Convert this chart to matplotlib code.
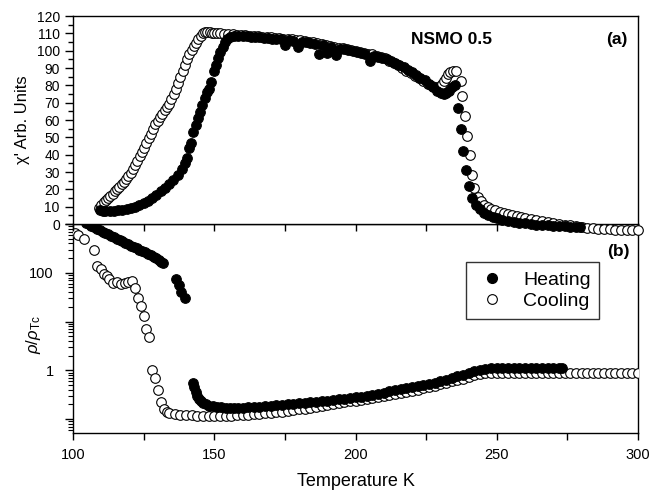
import numpy as np
import matplotlib
matplotlib.use('Agg')
import matplotlib.pyplot as plt
from matplotlib.ticker import MultipleLocator, LogLocator, FuncFormatter
from matplotlib.lines import Line2D

plt.rcParams['font.family'] = ['Liberation Sans', 'DejaVu Sans']
plt.rcParams['mathtext.fontset'] = 'custom'
plt.rcParams['mathtext.rm'] = 'Liberation Sans'
plt.rcParams['mathtext.it'] = 'Liberation Sans:italic'

# ---- panel (a): chi' vs T ----
heat_T_a = [109.5, 110.5, 111.5, 113, 114.5, 116, 117.5, 119, 120.5, 122,
            123.5, 125, 126.5, 128, 129.5, 131, 132.5, 134, 135.5, 137,
            138.5, 139.5, 140.3, 141, 141.8, 142.6, 143.4, 144.2, 145, 145.8,
            146.6, 147.4, 148.2, 149, 149.8, 150.6, 151.4, 152.2, 153, 153.8,
            154.6, 155.5,
            157, 158.5, 160, 161.5, 163, 164.5, 166, 167.5, 169, 170.5,
            172, 173.5, 175, 176.5, 178, 179.5, 181, 182.5, 184, 185.5,
            187, 188.5, 190, 191.5, 193, 194.5, 196, 197.5, 199, 200.5,
            202, 203.5, 205, 206.5, 208, 209.5, 211, 212.5, 214, 215.5,
            217, 218.5, 220, 221.5, 223, 224.5, 226, 227.5, 229,
            230.2, 231.2, 232.2, 233.2, 234.2, 235.1, 236.2, 237.2, 238.2, 239.2,
            240.2, 241.4, 242.6, 244, 245.5, 247, 248.5, 250, 252, 254,
            256, 258, 260, 262, 264, 266, 268, 270, 272, 274,
            276, 278, 279.5]
heat_chi = [8, 7.6, 7.3, 7.3, 7.5, 7.8, 8.2, 8.6, 9, 9.8,
            10.8, 12, 13.3, 15, 17, 19, 21, 23, 25.5, 28,
            31.5, 35, 38, 44, 47, 53, 57, 61, 64.5, 68.5,
            72.5, 76, 78, 82, 88, 92, 96, 99, 102, 105,
            107, 108,
            108.5, 108.5, 108.3, 108.2, 108, 107.8, 107.6, 107.4, 107.2, 107,
            106.8, 106.5, 103, 106, 105.7, 102, 105.2, 104.8, 104.4, 104,
            98, 103, 98.5, 102.2, 97.5, 101.2, 100.8, 100.3, 99.8, 99.3,
            98.8, 98.3, 94, 97.2, 96.6, 96, 95.2, 94.2, 93, 91.8,
            90.5, 89, 87.5, 86, 84.5, 83, 81, 79, 77,
            75.5, 75, 75.5, 77, 79, 80, 67, 55, 42, 31,
            22, 15, 11, 8.5, 6.5, 5, 4, 3.3, 2.5, 1.8,
            1.2, 0.8, 0.4, 0, -0.3, -0.6, -0.8, -1, -1.2, -1.4,
            -1.5, -1.7, -1.8]

cool_T_a = [109.3, 110, 110.8, 111.6, 112.4, 113.2, 114, 114.8, 115.6, 116.4,
            117.2, 118, 118.8, 119.6, 120.4, 121.2, 122, 122.8, 123.6, 124.4,
            125.2, 126, 126.8, 127.6, 128.4, 129.2, 130, 130.8, 131.6, 132.4,
            133.2, 134, 134.8, 135.6, 136.4, 137.2, 138, 138.8, 139.6, 140.4,
            141.2, 142, 142.8, 143.6, 144.4, 145.2, 146, 146.8, 147.6, 148.4,
            149.2, 150, 151, 152,
            153.5, 155, 156.5, 158, 159.5, 161, 162.5, 164, 165.5, 167,
            168.5, 170, 171.5, 173, 174.5, 176, 177.5, 179, 180.5, 182,
            183.5, 185, 186.5, 188, 189.5, 191, 192.5, 194, 195.5, 197,
            198.5, 200, 201.5, 203, 204.5, 206, 207.5, 209, 210.5, 212,
            213.5, 215, 216.5, 218, 219.5, 221, 222.5, 224, 225.5, 227,
            228.5, 229.5, 230.5, 231.3, 232, 232.8, 233.6, 234.4, 235.5, 237.2,
            237.8, 238.8, 239.6, 240.4, 241.1, 242, 243.2, 244.4, 245.5, 246.8,
            248, 249.5, 251, 252.5, 254, 255.5, 257, 258.5, 260, 262,
            264, 266, 268, 270, 272, 274, 276, 278, 280, 282,
            284, 286, 288, 290, 292, 294, 296, 298, 300]
cool_chi = [9, 11, 12.5, 13.8, 15, 16, 17.5, 18.8, 20, 21.5,
            23, 24.5, 26, 27.5, 29.5, 31.5, 34, 36.5, 39, 41.5,
            44, 47, 49.5, 52, 55, 57.5, 59.5, 61.5, 63.5, 65.5,
            67.5, 69.5, 72, 75, 78, 81.5, 85, 88.5, 92, 95,
            98, 100.5, 102.5, 104.5, 106.5, 108.5, 110, 110.5, 110.5, 110.5,
            110.3, 110.2, 110, 110,
            109.8, 109.6, 109.4, 109.2, 109, 108.8, 108.6, 108.4, 108.2, 108,
            107.8, 107.6, 107.4, 107.2, 107, 106.8, 106.6, 106.3, 106, 105.6,
            105.2, 104.8, 104.3, 103.8, 103.3, 102.8, 102.3, 101.8, 101.3, 100.8,
            100.3, 99.8, 99.3, 98.8, 98.3, 97.8, 97.2, 96.5, 95.5, 94.3,
            93, 91.5, 90, 88.5, 87, 85.5, 84, 82.5, 81, 79.8,
            79, 79, 80.5, 82.5, 84.5, 86.5, 87.5, 88, 88, 82.5,
            74, 62.5, 51, 39.6, 28.2, 20.6, 15.8, 13, 11, 9.8,
            8.8, 7.8, 7, 6.3, 5.6, 5, 4.4, 3.9, 3.4, 2.8,
            2.2, 1.7, 1.2, 0.7, 0.2, -0.3, -0.8, -1.3, -1.8, -2.2,
            -2.5, -2.8, -3, -3.1, -3.2, -3.2, -3.2, -3.2, -3.2]

# ---- panel (b): rho/rho_Tc vs T ----
heat_T_b = [104.5, 105.5, 106.5, 107.5, 108.5, 109.5, 110.5, 111.5, 112.5, 113.5,
            114.5, 115.5, 116.5, 117.5, 118.5, 119.5, 120.5, 121.5, 122.5, 123.5,
            124.5, 125.5, 126.5, 127.5, 128.5, 129.5, 130.4, 131.2, 132,
            136.5, 137.4, 138.2, 139.7,
            142.4, 142.9, 143.4, 143.9, 144.5, 145.2, 146, 147, 148, 149.5,
            151, 152.5, 154, 155.5, 157, 158.5, 160, 162, 164, 166,
            168, 170, 172, 174, 176, 178, 180, 182, 184, 186,
            188, 190, 192, 194, 196, 198, 200, 202, 204, 206,
            208, 210, 212, 214, 216, 218, 220, 222, 224, 226,
            228, 230, 232, 234, 236, 238, 240, 242, 244, 246,
            248, 250, 252, 254, 256, 258, 260, 262, 264, 266,
            268, 270, 272, 273]
heat_rho = [1050, 980, 920, 860, 800, 750, 700, 655, 610, 570,
            535, 500, 470, 440, 410, 385, 360, 340, 318, 298,
            280, 262, 245, 230, 215, 200, 185, 170, 160,
            73, 55, 41, 30,
            0.56, 0.45, 0.36, 0.3, 0.26, 0.23, 0.21, 0.2, 0.19, 0.185,
            0.18, 0.175, 0.172, 0.17, 0.168, 0.17, 0.172, 0.175, 0.178, 0.181,
            0.184, 0.188, 0.192, 0.196, 0.2, 0.205, 0.21, 0.215, 0.22, 0.226,
            0.232, 0.24, 0.247, 0.255, 0.263, 0.272, 0.28, 0.29, 0.3, 0.315,
            0.33, 0.35, 0.37, 0.39, 0.41, 0.43, 0.45, 0.475, 0.5, 0.53,
            0.56, 0.6, 0.64, 0.69, 0.75, 0.82, 0.9, 0.97, 1.02, 1.07,
            1.1, 1.11, 1.12, 1.12, 1.12, 1.12, 1.12, 1.12, 1.12, 1.12,
            1.12, 1.12, 1.12, 1.12]

cool_T_b = [100.7, 101.9, 103.9, 107.6, 108.6, 109.8, 110.8, 111.9, 112.9, 114,
            115.5, 116.9, 118.4, 119.6, 120.8, 121.9, 122.9, 124, 125.2, 125.9,
            127, 128, 129.1, 130, 131.1, 132.3, 133.2,
            134, 136, 138, 140, 142, 144, 146, 148, 150, 152,
            154, 156, 158, 160, 162, 164, 166, 168, 170, 172,
            174, 176, 178, 180, 182, 184, 186, 188, 190, 192,
            194, 196, 198, 200, 202, 204, 206, 208, 210, 212,
            214, 216, 218, 220, 222, 224, 226, 228, 230, 232,
            234, 236, 238, 240, 242, 244, 246, 248, 250, 252,
            254, 256, 258, 260, 262, 264, 266, 268, 270, 272,
            274, 276, 278, 280, 282, 284, 286, 288, 290, 292,
            294, 296, 298, 300]
cool_rho = [640, 590, 490, 290, 138, 117, 95, 85, 75, 62,
            64, 59, 62, 66, 69, 48, 31, 21, 13, 6.9,
            4.8, 1.02, 0.7, 0.39, 0.22, 0.16, 0.14,
            0.134, 0.128, 0.124, 0.121, 0.119, 0.118, 0.117, 0.116, 0.115, 0.115,
            0.116, 0.117, 0.119, 0.12, 0.122, 0.125, 0.128, 0.131, 0.134, 0.137,
            0.14, 0.146, 0.152, 0.158, 0.165, 0.172, 0.18, 0.188, 0.196, 0.204,
            0.212, 0.221, 0.23, 0.24, 0.25, 0.26, 0.27, 0.28, 0.295, 0.31,
            0.327, 0.345, 0.364, 0.384, 0.405, 0.427, 0.45, 0.48, 0.52, 0.555,
            0.595, 0.635, 0.68, 0.73, 0.79, 0.84, 0.87, 0.875, 0.88, 0.88,
            0.88, 0.88, 0.88, 0.88, 0.88, 0.88, 0.88, 0.88, 0.88, 0.88,
            0.88, 0.88, 0.88, 0.88, 0.88, 0.88, 0.88, 0.88, 0.88, 0.88,
            0.88, 0.88, 0.88, 0.88]

W, H = 651, 493
fig = plt.figure(figsize=(W / 100, H / 100), dpi=100)
left, right = 73 / W, 638 / W
y_mid = 1 - 224 / H
ax_b = fig.add_axes([left, 1 - 433 / H, right - left, y_mid - (1 - 433 / H)])
ax_a = fig.add_axes([left, y_mid, right - left, (1 - 16 / H) - y_mid])

ms = 48
# panel a
ax_a.scatter(cool_T_a, cool_chi, s=ms, facecolor='white', edgecolor='black', lw=0.8, clip_on=False, zorder=3)
ax_a.scatter(heat_T_a, heat_chi, s=ms, facecolor='black', edgecolor='black', lw=0.8, clip_on=False, zorder=4)
ax_a.set_xlim(100, 300)
ax_a.set_ylim(0, 120)
ax_a.yaxis.set_major_locator(MultipleLocator(10))
ax_a.yaxis.set_minor_locator(MultipleLocator(5))
ax_a.xaxis.set_major_locator(MultipleLocator(50))
ax_a.xaxis.set_minor_locator(MultipleLocator(25))
ax_a.tick_params(axis='x', which='both', direction='out', length=5, width=1, labelbottom=False)
ax_a.tick_params(axis='y', which='major', direction='out', length=6, width=1, labelsize=10)
ax_a.tick_params(axis='y', which='minor', direction='out', length=3.5, width=1)
ax_a.set_ylabel("χ' Arb. Units", fontsize=12)
ax_a.yaxis.set_label_coords(-0.076, 0.5)
ax_a.text(0.67, 0.885, 'NSMO 0.5', fontsize=12.5, fontweight='bold', ha='center', va='center',
          transform=ax_a.transAxes)
ax_a.text(0.962, 0.885, '(a)', fontsize=12.5, fontweight='bold', ha='center', va='center',
          transform=ax_a.transAxes)

# panel b
ax_b.scatter(cool_T_b, cool_rho, s=ms, facecolor='white', edgecolor='black', lw=0.8, zorder=3)
ax_b.scatter(heat_T_b, heat_rho, s=ms, facecolor='black', edgecolor='black', lw=0.8, zorder=4)
ax_b.set_yscale('log')
ax_b.set_xlim(100, 300)
ax_b.set_ylim(0.052, 1000)
ax_b.yaxis.set_major_locator(LogLocator(base=10, numticks=10))
ax_b.yaxis.set_minor_locator(LogLocator(base=10, subs=np.arange(2, 10), numticks=20))
ax_b.yaxis.set_major_formatter(FuncFormatter(lambda v, p: {1.0: '1', 100.0: '100'}.get(round(v, 6), '')))
ax_b.yaxis.set_minor_formatter(FuncFormatter(lambda v, p: ''))
ax_b.xaxis.set_major_locator(MultipleLocator(50))
ax_b.xaxis.set_minor_locator(MultipleLocator(25))
ax_b.tick_params(axis='x', which='both', direction='out', length=5, width=1, labelsize=10.5, pad=6)
ax_b.tick_params(axis='y', which='major', direction='out', length=6, width=1, labelsize=10.5, pad=8)
ax_b.tick_params(axis='y', which='minor', direction='out', length=3.5, width=0.8)
ax_b.set_ylabel(r'$\rho/\rho_{\mathrm{Tc}}$', fontsize=12)
ax_b.yaxis.set_label_coords(-0.053, 0.47)
ax_b.set_xlabel('Temperature K', fontsize=13, labelpad=8)
ax_b.text(0.965, 0.87, '(b)', fontsize=12.5, fontweight='bold', ha='center', va='center',
          transform=ax_b.transAxes)

for ax in (ax_a, ax_b):
    for sp in ax.spines.values():
        sp.set_linewidth(1)

handles = [Line2D([], [], ls='none', marker='o', ms=7, mfc='black', mec='black'),
           Line2D([], [], ls='none', marker='o', ms=7, mfc='white', mec='black', mew=0.8)]
leg = ax_b.legend(handles, ['Heating', 'Cooling'], loc='upper right', bbox_to_anchor=(0.9315, 0.817),
                  borderaxespad=0, fontsize=14, frameon=True, fancybox=False, edgecolor='black',
                  handletextpad=0.7, borderpad=0.45, labelspacing=0.2, handlelength=1.8)
leg.get_frame().set_linewidth(1)

fig.savefig('out.png', dpi=100)
